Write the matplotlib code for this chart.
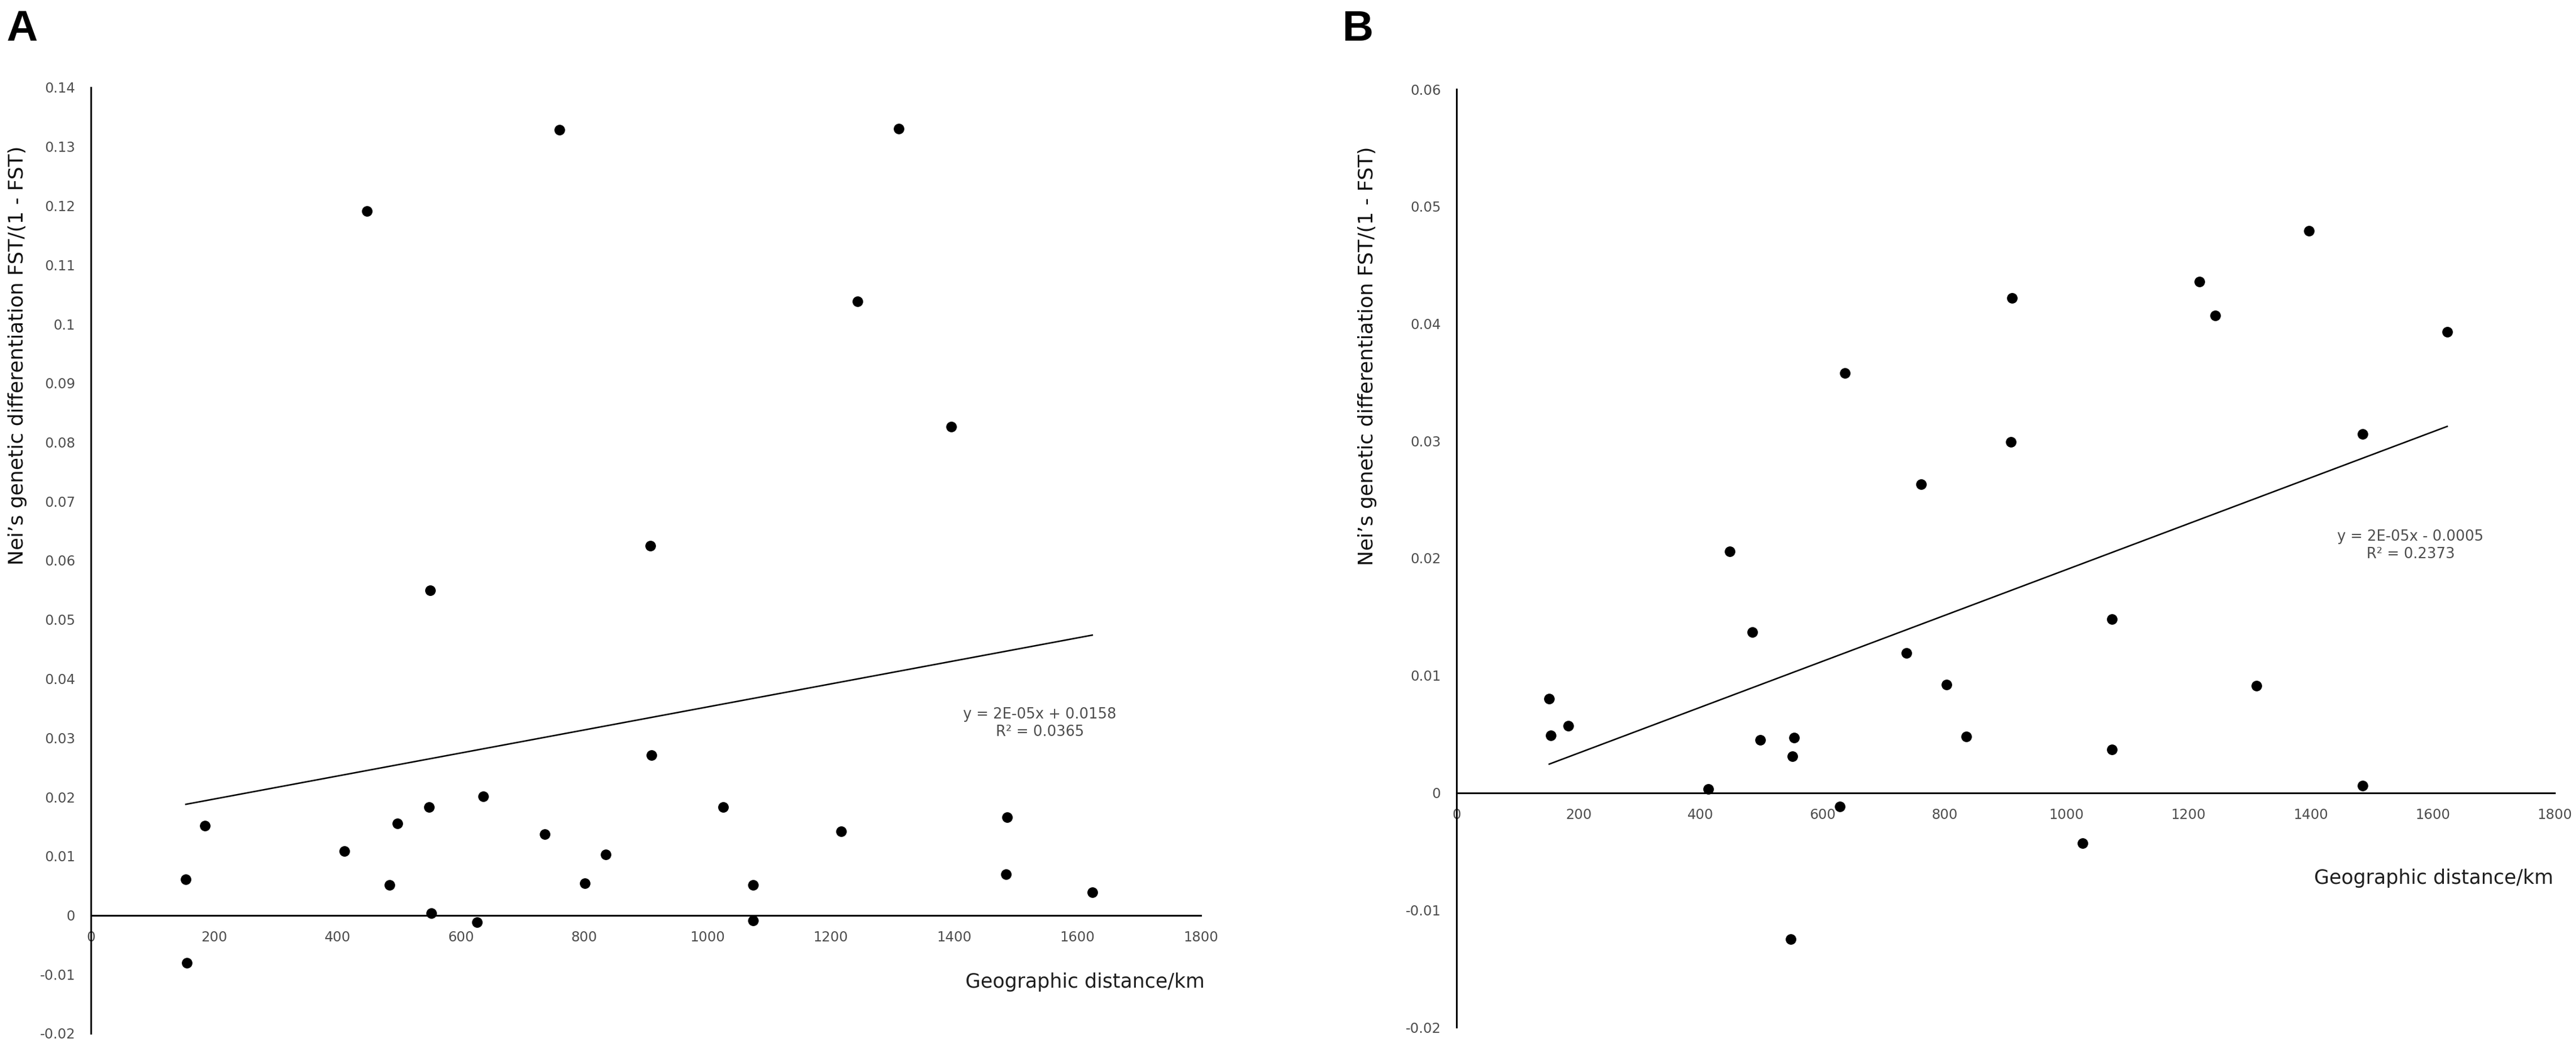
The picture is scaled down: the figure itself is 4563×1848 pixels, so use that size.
import numpy as np
import matplotlib
matplotlib.use('Agg')
import matplotlib.pyplot as plt

# Panel A: Nei's FST/(1-FST) against geographic distance
dist_a = [154, 185, 156, 411, 484, 497, 548, 550, 552, 636, 626, 736, 801,
          835, 907, 909, 448, 760, 1310, 1243, 1395, 1025, 1217, 1486, 1074,
          1484, 1624, 1074]
fst_a = [0.0061, 0.0151, -0.0081, 0.0108, 0.0051, 0.0155, 0.0183, 0.0549,
         0.0003, 0.0201, -0.0012, 0.0137, 0.0054, 0.0103, 0.0625, 0.0271,
         0.1191, 0.1328, 0.1330, 0.1038, 0.0826, 0.0183, 0.0142, 0.0166,
         0.0051, 0.0069, 0.0039, -0.0009]

# Panel B
dist_b = [152, 155, 183, 413, 448, 485, 498, 553, 551, 548, 628, 738, 803,
          836, 637, 762, 911, 909, 1074, 1074, 1026, 1218, 1244, 1397, 1624,
          1485, 1485, 1311]
fst_b = [0.0080, 0.0049, 0.0057, 0.0003, 0.0206, 0.0137, 0.0045, 0.0047,
         0.0031, -0.0125, -0.0012, 0.0119, 0.0092, 0.0048, 0.0358, 0.0263,
         0.0422, 0.0299, 0.0148, 0.0037, -0.0043, 0.0436, 0.0407, 0.0479,
         0.0393, 0.0306, 0.0006, 0.0091]

eq_a = ['y = 2E-05x + 0.0158', 'R² = 0.0365']
eq_b = ['y = 2E-05x - 0.0005', 'R² = 0.2373']

x_ticks = [0, 200, 400, 600, 800, 1000, 1200, 1400, 1600, 1800]
y_ticks_a = [-0.02, -0.01, 0, 0.01, 0.02, 0.03, 0.04, 0.05, 0.06, 0.07,
             0.08, 0.09, 0.1, 0.11, 0.12, 0.13, 0.14]
y_ticks_b = [-0.02, -0.01, 0, 0.01, 0.02, 0.03, 0.04, 0.05, 0.06]

ylab = "Nei’s genetic differentiation FST/(1 - FST)"
xlab = 'Geographic distance/km'

W, H = 4563, 1848
fig = plt.figure(figsize=(W / 100, H / 100), dpi=100)

gray = '#4d4d4d'
font = 'DejaVu Sans'


def draw_panel(rect, dist, fst, yticks, eq, eq_pos, xlab_pos):
    ax = fig.add_axes(rect)
    ax.plot(dist, fst, 'o', color='black', markersize=12.5)

    # least squares trend line over the range of the data
    slope, icept = np.polyfit(dist, fst, 1)
    xs = np.array([min(dist), max(dist)])
    ax.plot(xs, slope * xs + icept, color='black', lw=1.9)

    ax.set_xlim(0, 1800)
    ax.set_ylim(yticks[0], yticks[-1])
    ax.set_xticks(x_ticks)
    ax.set_xticklabels([str(v) for v in x_ticks])
    ax.set_yticks(yticks)
    ax.set_yticklabels(['%g' % round(v, 2) for v in yticks])
    ax.spines['top'].set_visible(False)
    ax.spines['right'].set_visible(False)
    ax.spines['bottom'].set_position(('data', 0))
    for s in ('left', 'bottom'):
        ax.spines[s].set_linewidth(2.2)
    ax.tick_params(length=0, labelsize=17.5, labelcolor=gray, pad=20)
    for lab in ax.get_xticklabels() + ax.get_yticklabels():
        lab.set_family(font)

    ax.text(eq_pos[0], eq_pos[1], eq[0] + '\n' + eq[1], ha='center',
            va='center', fontsize=18.5, color=gray, family=font,
            linespacing=1.25)
    ax.text(xlab_pos[0], xlab_pos[1], xlab, ha='center', va='center',
            fontsize=25, color='#1f1f1f', family=font)
    return ax


ax_a = draw_panel([161 / W, 1 - 1831 / H, 1966 / W, 1676 / H],
                  dist_a, fst_a, y_ticks_a, eq_a, (1539, 0.0325),
                  (1612, -0.0113))
ax_b = draw_panel([2580 / W, 1 - 1820 / H, 1945 / W, 1662 / H],
                  dist_b, fst_b, y_ticks_b, eq_b, (1564, 0.0211),
                  (1602, -0.0073))

fig.text(31 / W, 1 - 630 / H, ylab, rotation=90, ha='center', va='center',
         fontsize=26, color='#111111', family=font)
fig.text(2422 / W, 1 - 631 / H, ylab, rotation=90, ha='center', va='center',
         fontsize=26, color='#111111', family=font)

fig.text(11 / W, 1 - 72 / H, 'A', fontsize=55, weight='bold',
         family='Liberation Sans', va='baseline', ha='left')
fig.text(2378 / W, 1 - 72 / H, 'B', fontsize=55, weight='bold',
         family='Liberation Sans', va='baseline', ha='left')

fig.savefig('out.png', dpi=100, facecolor='white')
